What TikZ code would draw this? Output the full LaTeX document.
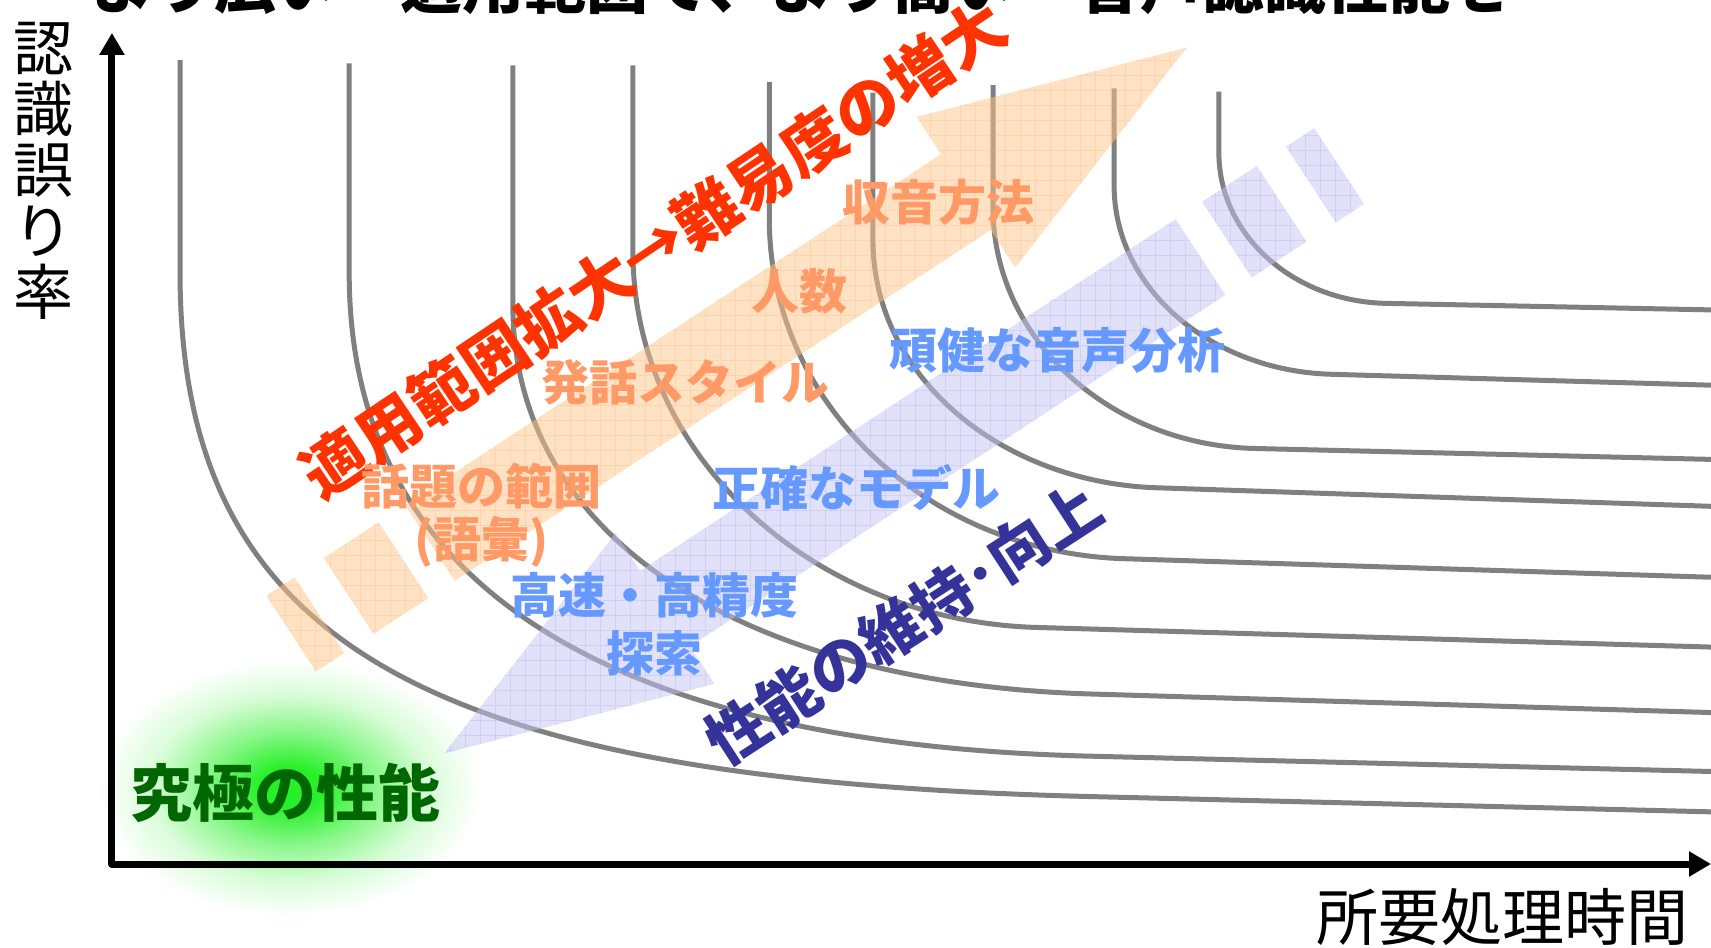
\documentclass[tikz,border=0pt]{standalone}
\usepackage{fontspec}
\newfontfamily\jp{Noto Sans CJK JP}
\usetikzlibrary{arrows.meta}
\definecolor{curvegray}{RGB}{128,128,128}
\definecolor{redtxt}{RGB}{255,51,0}
\definecolor{orangetxt}{RGB}{255,153,102}
\definecolor{bluetxt}{RGB}{102,153,255}
\definecolor{navytxt}{RGB}{51,51,153}
\definecolor{greentxt}{RGB}{0,102,0}
\definecolor{glowc}{RGB}{40,240,40}
\definecolor{ofill}{RGB}{255,196,136}
\definecolor{ogrid}{RGB}{255,160,80}
\definecolor{bfill}{RGB}{196,196,245}
\definecolor{bgrid}{RGB}{140,140,235}
\pgfdeclareradialshading{glow}{\pgfpoint{0bp}{0bp}}{color(0bp)=(glowc); color(4bp)=(glowc); color(11bp)=(glowc!55!white); color(18bp)=(glowc!18!white); color(25bp)=(white); color(50bp)=(white)}
\newcommand\bigarrowpath{(0,-41.5) rectangle (31,41.5) (63,-41.5) rectangle (123,41.5) (152,-41.5) -- (739,-41.5) -- (739,-82.5) -- (981,0) -- (739,82.5) -- (739,41.5) -- (152,41.5) -- cycle}
\tikzset{
  curve/.style={draw=curvegray, line width=5pt},
  axisline/.style={line width=7pt, line join=round, {Triangle[length=22pt,width=24pt]}-{Triangle[length=22pt,width=24pt]}},
  titletext/.style={font=\jp\bfseries\fontsize{62}{70}\selectfont, inner sep=0pt, anchor=base west},
  axislabel/.style={font=\jp\fontsize{60}{61}\selectfont, inner sep=0pt, align=center},
  redtext/.style={font=\jp\bfseries\fontsize{64}{70}\selectfont, text=redtxt, inner sep=0pt},
  orangetext/.style={font=\jp\bfseries\fontsize{48}{53.5}\selectfont, text=orangetxt, inner sep=0pt, align=center},
  bluetext/.style={font=\jp\bfseries\fontsize{48}{58}\selectfont, text=bluetxt, inner sep=0pt, align=center},
  navytext/.style={font=\jp\bfseries\fontsize{61}{66}\selectfont, text=navytxt, inner sep=0pt},
  greentext/.style={font=\jp\bfseries\fontsize{62}{68}\selectfont, text=greentxt, inner sep=0pt},
}
\begin{document}
\begin{tikzpicture}[x=1.0912pt, y=-1.0912pt]
\useasboundingbox (0,0) rectangle (1568,868);
\fill[white] (0,0) rectangle (1568,868);
% title (cut off at the top)
\node[titletext] (title) at (84,8) {より広い　適用範囲で、より高い　音声認識性能を};
% glow
\shade[shading=glow] (266,722) ellipse [x radius=175, y radius=118];
% curves
\foreach \xt/\yt/\ya/\xb/\yb/\yr/\ff in {
  165/55/250/1000/730/744/0.72,
  320/58/250/1000/693/707/0.65,
  470/60/280/1000/636/653/0.6,
  580/60/230/950/575/593/0.55,
  705/75/200/1030/512/529/0.55,
  800/85/220/1060/447/464/0.55,
  910/78/190/1150/411/421/0.55,
  1021/81/170/1220/343/353/0.55,
  1117/84/140/1270/278/284/0.55}{
  \pgfmathsetmacro\cay{\ya+\ff*(\yb-\ya)}
  \pgfmathsetmacro\cbx{\xb-\ff*(\xb-\xt)}
  \pgfmathsetmacro\cby{\yb-(\yr-\yb)/(1568-\xb)*\ff*(\xb-\xt)}
  \draw[curve] (\xt,\yt) -- (\xt,\ya) .. controls (\xt,\cay) and (\cbx,\cby) .. (\xb,\yb) -- (1568,\yr);
}
% orange arrow
\begin{scope}
\clip[shift={(266.8,580.7)},rotate=33.2] \bigarrowpath;
\fill[ofill, fill opacity=0.5] (0,0) rectangle (1568,868);
\draw[ogrid, draw opacity=0.2, line width=0.8pt, step=15pt] (0,868) grid (1568,0);
\end{scope}
% blue arrow
\begin{scope}
\clip[shift={(1227.2,152.2)},rotate=213.28] \bigarrowpath;
\fill[bfill, fill opacity=0.5] (0,0) rectangle (1568,868);
\draw[bgrid, draw opacity=0.2, line width=0.8pt, step=15pt] (0,868) grid (1568,0);
\end{scope}
% axes
\coordinate (ytip) at (102.6,30.2);
\coordinate (origin) at (102.6,791.8);
\coordinate (xtip) at (1568,791.8);
\draw[axisline] (ytip) -- (origin) -- (xtip);
\node[axislabel] (ylabel) at (39.5,156.5) {認\\識\\誤\\り\\率};
\node[axislabel, font=\jp\fontsize{62}{64}\selectfont] (xlabel) at (1377,840.4) {所要処理時間};
% texts
\node[redtext, rotate=33.9] (scope) at (599,228) {適用範囲拡大→難易度の増大};
\node[orangetext] (rec) at (860,185) {収音方法};
\node[orangetext] (spk) at (733,267) {人数};
\node[orangetext] (style) at (628,350) {発話スタイル};
\node[orangetext] (topic) at (441,472) {話題の範囲\\(語彙)};
\node[bluetext] (robust) at (969,321) {頑健な音声分析};
\node[bluetext] (model) at (785,447) {正確なモデル};
\node[bluetext] (search) at (600,572) {高速・高精度\\探索};
\node[navytext, rotate=33] (keep) at (828,571) {性能の維持･向上};
\node[greentext] (ultimate) at (262,727) {究極の性能};
\end{tikzpicture}
\end{document}
